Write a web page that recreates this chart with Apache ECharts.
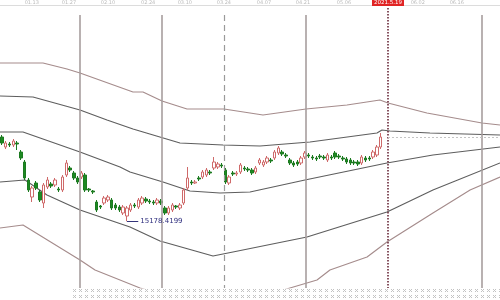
<!DOCTYPE html>
<html><head><meta charset="utf-8">
<script src="https://cdn.jsdelivr.net/npm/echarts/dist/echarts.min.js"></script>
<style>html,body{margin:0;padding:0;background:#fff;overflow:hidden}#c{width:500px;height:300px}</style>
</head><body><div id="c"></div>
<script>
// ---- candle data (open, close, low, high) ----
const openP  = [16020,15920,15950,15940,15960,15870,15770,15590,15420,15560,15470,15360,15520,15550,15540,15500,15490,15640,15710,15660,15610,15620,15640,15500,15480,15370,15330,15360,15390,15390,15340,15320,15260,15230,15290,15340,15320,15360,15400,15380,15370,15360,15380,15310,15260,15290,15330,15310,15360,15510,15570,15560,15610,15620,15640,15670,15710,15720,15740,15690,15560,15660,15650,15670,15710,15700,15690,15670,15760,15740,15770,15790,15810,15860,15870,15840,15790,15760,15770,15760,15820,15840,15820,15810,15830,15820,15790,15820,15860,15830,15810,15800,15790,15770,15770,15760,15810,15810,15820,15840,15920];
const closeP = [15960,15960,15940,15980,15950,15810,15610,15490,15510,15510,15390,15540,15590,15530,15590,15490,15620,15760,15690,15610,15570,15660,15490,15490,15470,15290,15320,15410,15420,15310,15310,15290,15320,15310,15340,15330,15390,15410,15380,15370,15360,15390,15360,15260,15310,15340,15320,15340,15490,15610,15560,15570,15600,15670,15690,15660,15770,15750,15730,15570,15620,15650,15660,15740,15700,15690,15660,15710,15790,15770,15810,15780,15870,15910,15850,15830,15760,15740,15750,15810,15860,15830,15810,15800,15820,15810,15840,15810,15820,15820,15800,15770,15760,15760,15750,15820,15790,15800,15870,15920,16020];
const lowP   = [15940,15900,15920,15920,15890,15790,15590,15470,15370,15490,15370,15310,15500,15510,15520,15470,15470,15620,15670,15590,15550,15600,15470,15470,15450,15270,15300,15340,15370,15290,15290,15270,15240,15178.42,15270,15310,15300,15340,15360,15350,15340,15340,15340,15240,15240,15270,15300,15290,15340,15490,15540,15550,15580,15600,15620,15640,15690,15700,15710,15550,15540,15630,15630,15650,15680,15670,15640,15650,15740,15720,15750,15760,15790,15840,15830,15810,15740,15720,15730,15740,15800,15810,15790,15780,15800,15790,15770,15790,15800,15800,15780,15750,15740,15740,15730,15740,15770,15780,15800,15820,15900];
const highP  = [16040,15980,15970,16000,15980,15890,15790,15610,15530,15580,15490,15560,15620,15570,15610,15520,15640,15790,15730,15680,15630,15680,15660,15510,15490,15390,15340,15430,15440,15410,15360,15340,15340,15330,15360,15360,15410,15430,15420,15400,15390,15410,15400,15330,15330,15360,15340,15360,15510,15720,15590,15590,15630,15690,15710,15690,15820,15770,15760,15710,15640,15680,15680,15760,15730,15720,15710,15730,15810,15790,15830,15810,15890,15930,15890,15860,15810,15780,15790,15830,15880,15860,15840,15830,15850,15840,15860,15840,15880,15850,15830,15820,15810,15790,15790,15840,15830,15830,15890,15940,16060];
const slotCount = 132;

// ---- band lines: [position index, value] ----
const bandOuterUpper = [[-0.5,16760],[10.85,16760],[17.19,16700],[20.62,16660],[34.61,16470],[37.25,16470],[42.27,16380],[48.87,16300],[58.63,16300],[68.93,16240],[80.28,16300],[91.1,16340],[99.8,16390],[101.93,16360],[112.2,16260],[126.74,16160],[131.5,16140]];
const bandUpper = [[-0.5,16430],[8.21,16420],[20.62,16290],[27.75,16190],[34.61,16100],[47.02,15960],[58.37,15940],[68.14,15930],[81.34,15970],[99.02,16060],[100.34,16090],[102.46,16080],[113.0,16060],[131.5,16040]];
const bandMiddle = [[-0.5,16070],[5.57,16070],[20.62,15870],[31.18,15720],[33.82,15670],[42.53,15570],[49.66,15480],[57.58,15460],[65.5,15470],[80.0,15590],[101.66,15760],[113.8,15840],[131.5,15920]];
const bandLower = [[-0.5,15570],[6.1,15590],[11.9,15440],[20.62,15290],[33.82,15120],[41.74,14980],[55.73,14830],[61.0,14870],[80.54,15020],[101.66,15270],[113.8,15490],[131.5,15760]];
const bandOuterLower = [[-0.5,15110],[5.57,15140],[20.62,14790],[24.58,14690],[36.46,14510],[47.0,14390],[65.5,14390],[76.06,14510],[83.19,14590],[86.6,14690],[96.4,14820],[101.66,14970],[113.8,15260],[123.6,15490],[131.5,15620]];

// ---- dividers, labels ----
const dividerSolid = [20.62, 42.27, 80.28, 126.74];
const dividerDashed = [58.63];
const dividerDotted = [101.93];
const tickPos = [7.9, 17.7, 28.0, 38.6, 48.3, 58.6, 69.2, 79.5, 90.3, 109.8, 120.1];
const tickLabels = ['01.13','01.27','02.10','02.24','03.10','03.24','04.07','04.21','05.06','06.02','06.16'];
const currentPos = 101.93;
const currentLabel = '2021.5.19';
const lowIndex = 33, lowValue = 15178.42, lowText = '15178.4199';
const lastClose = 16020;

const Y_MIN = 14510, Y_MAX = 17390;
const TOP_V = 17240, DOT_TOP_V = 17310;

const chart = echarts.init(document.getElementById('c'), null, {renderer:'canvas'});
const cats = Array.from({length: slotCount}, (_, i) => String(i));
const candles = openP.map((o, i) => [o, closeP[i], lowP[i], highP[i]]);

function vline(x, top, style) {
  return [{coord:[x, top], lineStyle: style}, {coord:[x, Y_MIN]}];
}
const dividerData = []
  .concat(dividerSolid.map(x => vline(x, TOP_V, {color:'#a79e9e', width:1.6, type:'solid'})))
  .concat(dividerDashed.map(x => vline(x, TOP_V, {color:'#9a9a9a', width:1.2, type:[6,4]})))
  .concat(dividerDotted.map(x => vline(x, DOT_TOP_V, {color:'#6a2a3a', width:1.6, type:[1.5,1.5]})))
  .concat([[{coord:[currentPos, lastClose], lineStyle:{color:'#c4c4c4', width:1, type:[2,2]}}, {coord:[131.5, lastClose]}]]);

function bandSeries(data, color, extra) {
  return Object.assign({
    type:'line', xAxisIndex:1, yAxisIndex:0, data, symbol:'none', silent:true,
    lineStyle:{color, width:1.15}, clip:true, z:2
  }, extra || {});
}

chart.setOption({
  animation:false,
  grid:{left:0, right:0, top:0, bottom:12},
  xAxis:[
    {type:'category', data:cats, boundaryGap:true, show:false},
    {type:'value', min:-0.5, max:slotCount-0.5, show:false}
  ],
  yAxis:{type:'value', min:Y_MIN, max:Y_MAX, show:false, splitLine:{show:false}},
  series:[
    bandSeries(bandOuterUpper, '#a58c8c', {markLine:{symbol:'none', silent:true, label:{show:false}, data:dividerData}}),
    bandSeries(bandUpper, '#5e5e5e'),
    bandSeries(bandMiddle, '#5e5e5e'),
    bandSeries(bandLower, '#5e5e5e'),
    bandSeries(bandOuterLower, '#a58c8c'),
    {
      type:'candlestick', xAxisIndex:0, yAxisIndex:0, data:candles, barWidth:3, silent:true, z:3,
      itemStyle:{color:'#ffffff', color0:'#1c8a22', borderColor:'#cf6a6a', borderColor0:'#1c7a20', borderWidth:1},
      markLine:{
        symbol:'none', silent:true,
        lineStyle:{color:'#33337a', width:1, type:'solid'},
        label:{show:true, position:'end', formatter:lowText, color:'#2e2e7e', fontSize:7, fontFamily:'DejaVu Sans', distance:2},
        data:[[{coord:[lowIndex, lowValue]}, {coord:[lowIndex+3, lowValue]}]]
      }
    }
  ]
});

// decorations positioned through the axes
const px = v => chart.convertToPixel({xAxisIndex:1}, v);
const g = [];
g.push({type:'line', shape:{x1:0, y1:5.5, x2:500, y2:5.5}, style:{stroke:'#dcdcdc', lineWidth:1}, silent:true});
tickPos.forEach((p, i) => {
  g.push({type:'text', x:px(p), y:3, style:{text:tickLabels[i], fill:'#bcbcbc', fontSize:5, fontFamily:'DejaVu Sans', align:'center', verticalAlign:'middle'}, silent:true});
});
const cx = px(currentPos);
g.push({type:'rect', shape:{x:cx-16, y:0, width:32, height:6}, style:{fill:'#e02424'}, silent:true});
g.push({type:'text', x:cx, y:3, style:{text:currentLabel, fill:'#ffffff', fontSize:5.5, fontFamily:'DejaVu Sans', align:'center', verticalAlign:'middle'}, silent:true});

// dotted strip at the bottom
const pc = document.createElement('canvas');
pc.width = 6; pc.height = 6;
const ctx = pc.getContext('2d');
ctx.fillStyle = '#ffffff'; ctx.fillRect(0,0,6,6);
ctx.fillStyle = '#c2c2c2';
ctx.fillRect(1,1,1,1); ctx.fillRect(3,1,1,1); ctx.fillRect(2,2,1,1);
ctx.fillRect(1,3,1,1); ctx.fillRect(3,3,1,1);
const stripX = px(18.8);
g.push({type:'rect', shape:{x:stripX, y:288, width:500-stripX, height:12}, style:{fill:{image:pc, repeat:'repeat'}}, silent:true});

chart.setOption({graphic:g});
</script>
</body></html>
